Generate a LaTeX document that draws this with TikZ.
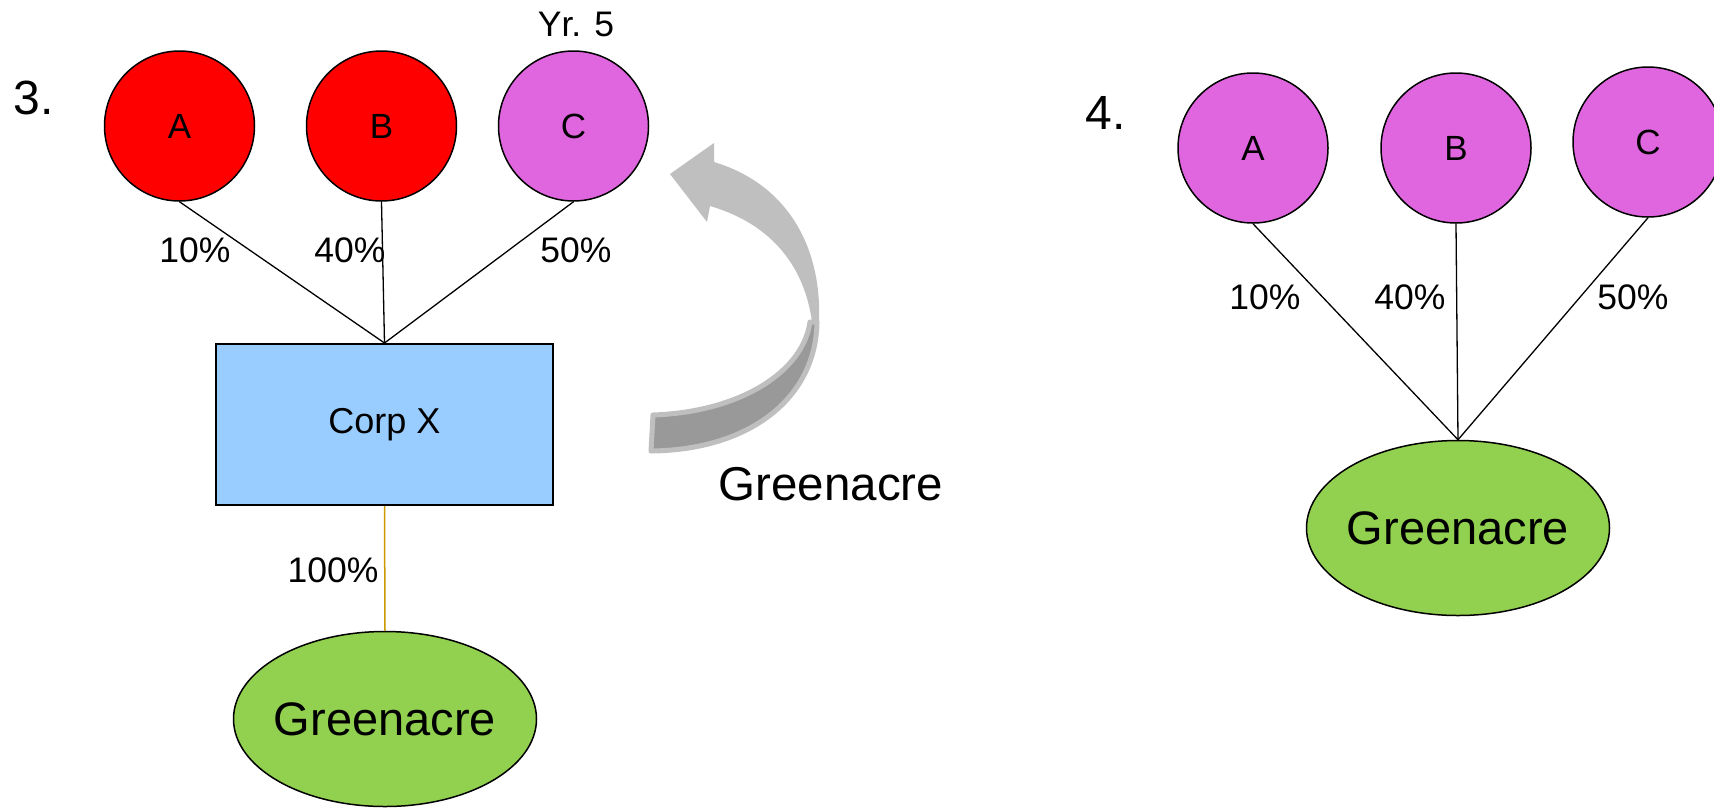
\documentclass[tikz,border=0pt]{standalone}
\usepackage{fontspec}
\setmainfont{Liberation Sans}
\usetikzlibrary{shapes.geometric}
\definecolor{redc}{HTML}{FF0000}
\definecolor{violetc}{HTML}{E066E0}
\definecolor{bluec}{HTML}{99CCFF}
\definecolor{greenc}{HTML}{92D050}
\definecolor{goldc}{HTML}{CC9900}
\definecolor{lightg}{HTML}{BFBFBF}
\definecolor{darkg}{HTML}{999999}
\tikzset{
  ball/.style={circle, draw=black, line width=1.5pt, minimum size=150pt, inner sep=0pt, font=\fontsize{35}{40}\selectfont},
  corpbox/.style={rectangle, draw=black, line width=2pt, fill=bluec, minimum width=337pt, minimum height=161pt, inner sep=0pt, font=\fontsize{36}{42}\selectfont},
  greenell/.style={ellipse, draw=black, line width=1.5pt, fill=greenc, minimum width=303pt, minimum height=175pt, inner xsep=-12pt, inner ysep=0pt, font=\fontsize{47}{54}\selectfont},
  pct/.style={inner sep=0pt, font=\fontsize{35.5}{40}\selectfont},
  numlbl/.style={inner sep=0pt, font=\fontsize{48}{54}\selectfont},
  bigtxt/.style={inner sep=0pt, font=\fontsize{47.5}{54}\selectfont},
  link/.style={draw=black, line width=1.3pt}
}
\begin{document}
\begin{tikzpicture}[x=1pt,y=-1pt]
\useasboundingbox (0,0) rectangle (1714,807);
\fill[white] (0,0) rectangle (1714,807);

% ---------- part 3 ----------
\node[numlbl] (n3) at (34,98) {3.};
\node[ball, fill=redc] (cA) at (179.5,126) {A};
\node[ball, fill=redc] (cB) at (381.5,126) {B};
\node[ball, fill=violetc] (cC) at (573.5,126) {C};
\node[pct] (yr) at (576,24) {Yr. 5};
\node[corpbox] (corp) at (384.5,424.5) {Corp X};
\node[greenell] (g1) at (385,719) {Greenacre};

\draw[link] (cA.south) -- (corp.north);
\draw[link] (cB.south) -- (corp.north);
\draw[link] (cC.south) -- (corp.north);
\draw[draw=goldc, line width=1.5pt] (corp.south) -- (g1.north);

\node[pct] (p1) at (195,250) {10\%};
\node[pct] (p2) at (350,250) {40\%};
\node[pct] (p3) at (576,250) {50\%};
\node[pct] (p4) at (333,570) {100\%};

% curved grey arrow
\draw[draw=lightg, fill=darkg, line width=5pt, line join=round]
  (653,415) .. controls (740,412) and (803,372) .. (810,322)
  -- (817,322) .. controls (816,398) and (750,450) .. (651,451) -- cycle;
\fill[lightg]
  (714,162) .. controls (790,185) and (822,250) .. (819,322)
  -- (812,322) .. controls (805,270) and (775,225) .. (710,206)
  -- (707,222) -- (670,174) -- (714,143) -- cycle;

\node[bigtxt] (lblg) at (831,484) {Greenacre};

% ---------- part 4 ----------
\node[numlbl] (n4) at (1106,113) {4.};
\node[ball, fill=violetc] (rA) at (1253,148) {A};
\node[ball, fill=violetc] (rB) at (1456,148) {B};
\node[ball, fill=violetc] (rC) at (1648,142) {C};
\node[greenell] (g2) at (1458,528) {Greenacre};

\draw[link] (rA.south) -- (g2.north);
\draw[link] (rB.south) -- (g2.north);
\draw[link] (rC.south) -- (g2.north);

\node[pct] (q1) at (1265,297.5) {10\%};
\node[pct] (q2) at (1410,297.5) {40\%};
\node[pct] (q3) at (1633,297.5) {50\%};
\end{tikzpicture}
\end{document}
